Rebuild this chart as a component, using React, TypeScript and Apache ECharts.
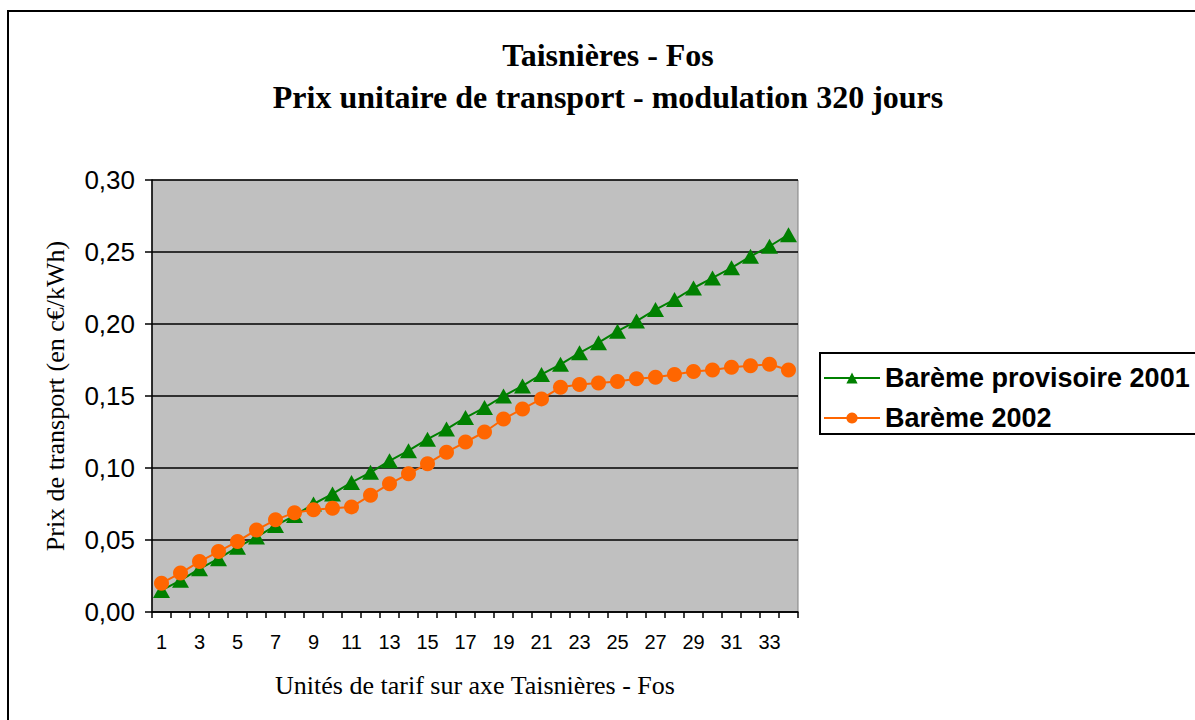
import React, { useEffect, useRef } from "react";
import * as echarts from "echarts";

const categories: string[] = [
  "1", "2", "3", "4", "5", "6", "7", "8", "9", "10", "11", "12", "13", "14", "15", "16", "17",
  "18", "19", "20", "21", "22", "23", "24", "25", "26", "27", "28", "29", "30", "31", "32", "33", "34",
];

const bareme2001: number[] = [
  0.015, 0.022, 0.030, 0.037, 0.045, 0.052, 0.060, 0.067, 0.075, 0.082, 0.090, 0.097, 0.105, 0.112,
  0.120, 0.127, 0.135, 0.142, 0.150, 0.157, 0.165, 0.172, 0.180, 0.187, 0.195, 0.202, 0.210, 0.217,
  0.225, 0.232, 0.239, 0.247, 0.254, 0.262,
];

const bareme2002: number[] = [
  0.020, 0.027, 0.035, 0.042, 0.049, 0.057, 0.064, 0.069, 0.071, 0.072, 0.073, 0.081, 0.089, 0.096,
  0.103, 0.111, 0.118, 0.125, 0.134, 0.141, 0.148, 0.156, 0.158, 0.159, 0.160, 0.162, 0.163, 0.165,
  0.167, 0.168, 0.170, 0.171, 0.172, 0.168,
];

const titleLines: string[] = ["Taisnières - Fos", "Prix unitaire de transport - modulation 320 jours"];
const seriesNames: string[] = ["Barème provisoire 2001", "Barème 2002"];
const yAxisName = "Prix de transport (en c€/kWh)";
const xAxisName = "Unités de tarif sur axe Taisnières - Fos";

const SANS = "'Liberation Sans', Arial, sans-serif";
const SERIF = "'Liberation Serif', 'Times New Roman', serif";

export default function App() {
  const ref = useRef<HTMLDivElement>(null);

  useEffect(() => {
    document.body.style.margin = "0";
    document.body.style.overflow = "hidden";
    if (!ref.current) return;
    const chart = echarts.init(ref.current, undefined, { renderer: "svg" });
    chart.setOption({
      animation: false,
      backgroundColor: "#ffffff",
      graphic: [
        {
          type: "rect",
          shape: { x: 8, y: 11, width: 1250, height: 800 },
          style: { fill: "none", stroke: "#000000", lineWidth: 2 },
          silent: true,
          z: 0,
        },
        {
          type: "rect",
          shape: { x: 820, y: 353, width: 420, height: 81 },
          style: { fill: "#ffffff", stroke: "#000000", lineWidth: 2 },
          silent: true,
          z: 0,
        },
        {
          type: "text",
          x: 608,
          y: 55,
          style: {
            text: titleLines[0],
            fontFamily: SERIF,
            fontWeight: "bold",
            fontSize: 32,
            fill: "#000000",
            align: "center",
            verticalAlign: "middle",
          },
        },
        {
          type: "text",
          x: 608,
          y: 97,
          style: {
            text: titleLines[1],
            fontFamily: SERIF,
            fontWeight: "bold",
            fontSize: 32,
            fill: "#000000",
            align: "center",
            verticalAlign: "middle",
          },
        },
      ],
      legend: {
        orient: "vertical",
        left: 823,
        top: 363,
        itemWidth: 56,
        itemHeight: 14,
        itemGap: 10,
        padding: 0,
        textStyle: {
          fontFamily: SANS,
          fontWeight: "bold",
          fontSize: 27,
          lineHeight: 30,
          color: "#000000",
        },
        data: seriesNames,
        z: 5,
      },
      grid: {
        left: 152,
        top: 180,
        width: 646,
        height: 432,
        show: true,
        backgroundColor: "#C0C0C0",
        borderColor: "#808080",
        borderWidth: 1,
        containLabel: false,
      },
      xAxis: {
        type: "category",
        data: categories,
        boundaryGap: true,
        axisLine: { lineStyle: { color: "#000000", width: 1.5 } },
        axisTick: { show: true, interval: 0, length: 6, inside: false, lineStyle: { color: "#000000", width: 1.5 } },
        axisLabel: { interval: 1, fontFamily: SANS, fontSize: 20, color: "#000000", margin: 20 },
        splitLine: { show: false },
        name: xAxisName,
        nameLocation: "middle",
        nameGap: 73,
        nameTextStyle: { fontFamily: SERIF, fontSize: 26, color: "#000000", verticalAlign: "middle" },
      },
      yAxis: {
        type: "value",
        min: 0,
        max: 0.3,
        interval: 0.05,
        axisLine: { show: true, lineStyle: { color: "#000000", width: 1.5 } },
        axisTick: { show: true, length: 7, inside: false, lineStyle: { color: "#000000", width: 1.5 } },
        axisLabel: {
          fontFamily: SANS,
          fontSize: 26,
          color: "#000000",
          margin: 17,
          formatter: (v: number) => v.toFixed(2).replace(".", ","),
        },
        splitLine: { show: true, lineStyle: { color: "#000000", width: 1.5 } },
        name: yAxisName,
        nameLocation: "middle",
        nameRotate: 90,
        nameGap: 97,
        nameTextStyle: { fontFamily: SERIF, fontSize: 26, color: "#000000", verticalAlign: "middle" },
      },
      series: [
        {
          name: seriesNames[0],
          type: "line",
          data: bareme2001,
          symbol: "triangle",
          symbolSize: [17, 15],
          showAllSymbol: true,
          itemStyle: { color: "#008000" },
          lineStyle: { color: "#008000", width: 2 },
          z: 3,
        },
        {
          name: seriesNames[1],
          type: "line",
          data: bareme2002,
          symbol: "circle",
          symbolSize: 15,
          showAllSymbol: true,
          itemStyle: { color: "#FF6600" },
          lineStyle: { color: "#FF6600", width: 2 },
          z: 4,
        },
      ],
    });
    return () => chart.dispose();
  }, []);

  return <div ref={ref} style={{ width: 1195, height: 720 }} />;
}
